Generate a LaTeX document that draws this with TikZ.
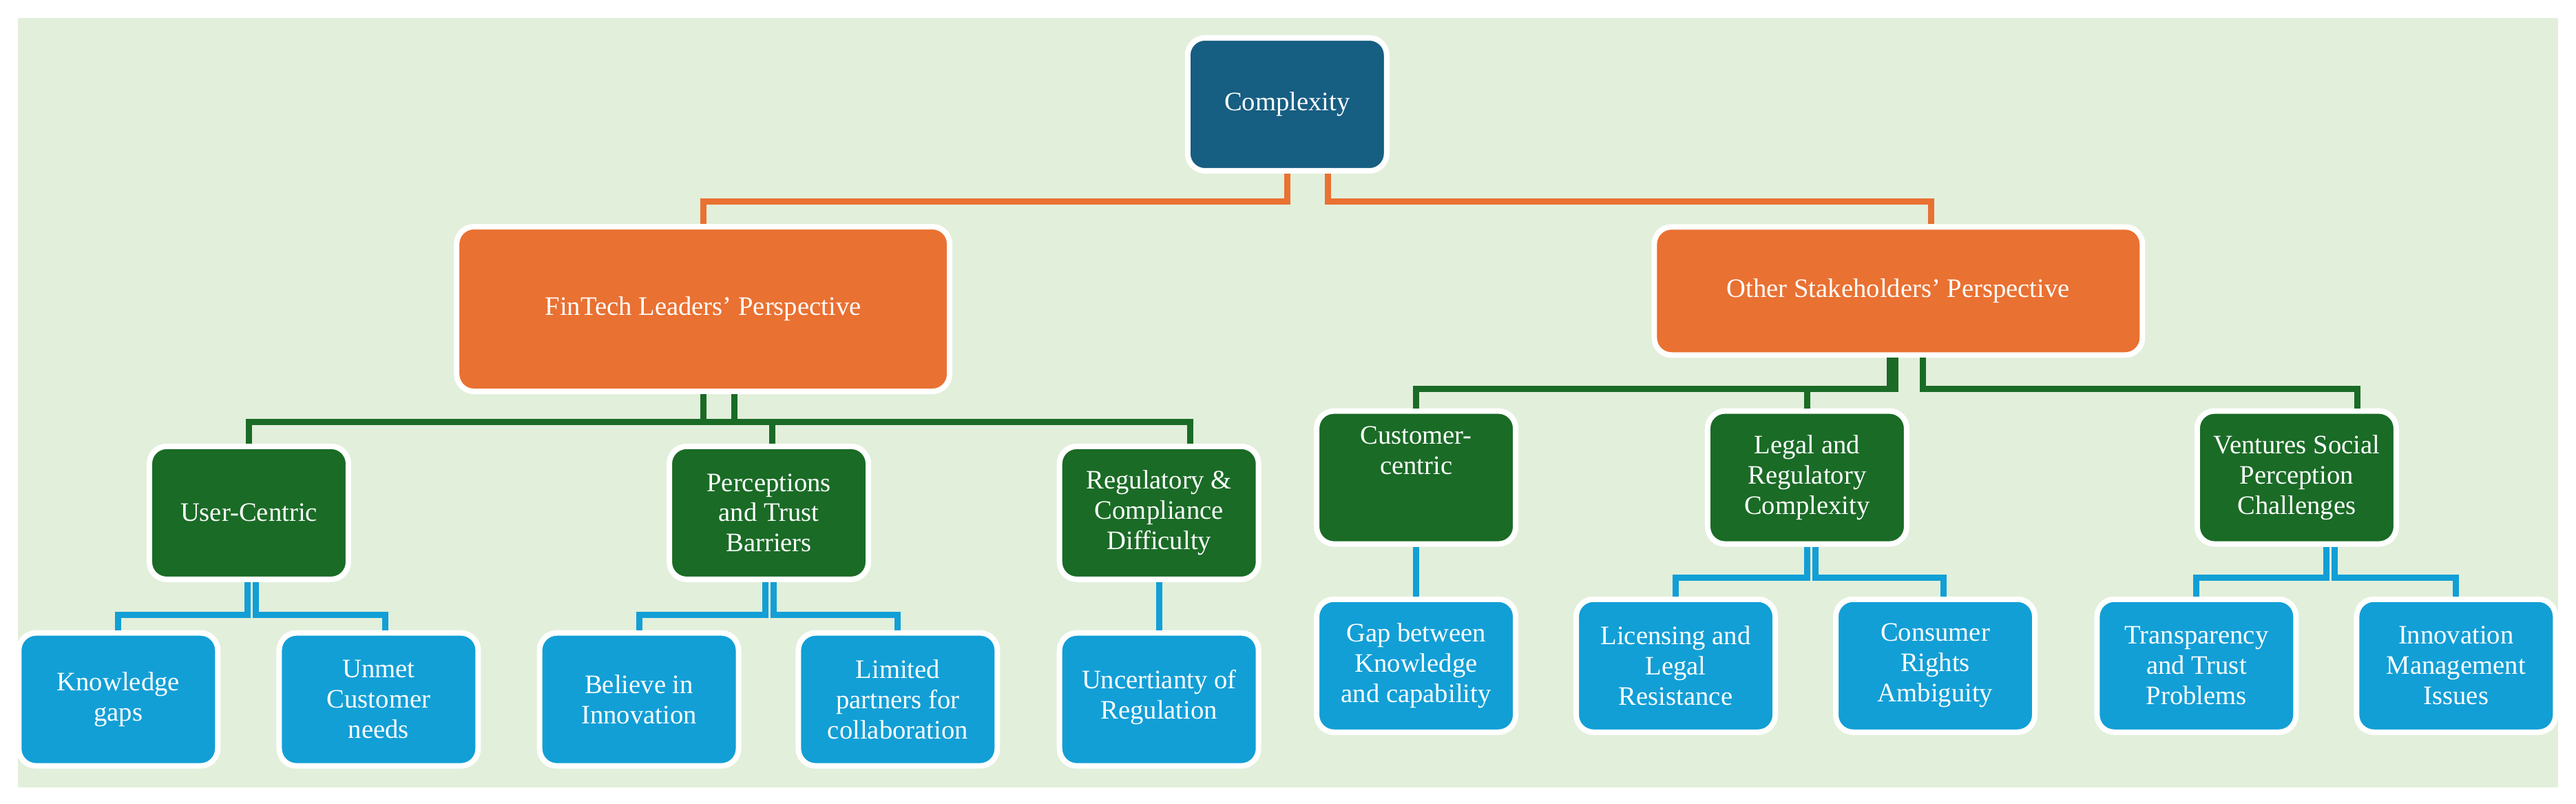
\documentclass[tikz,border=0pt]{standalone}
\usepackage{fontspec}
\setmainfont{Liberation Serif}
\usetikzlibrary{calc}
\definecolor{bg}{HTML}{E2EFDA}
\definecolor{cblue}{HTML}{165E82}
\definecolor{corange}{HTML}{E97132}
\definecolor{cgreen}{HTML}{1A6B26}
\definecolor{clight}{HTML}{129FD6}
\begin{document}
\begin{tikzpicture}[x=0.2386mm,y=-0.2386mm,
 box/.style={draw=white,line width=0.8mm,rounded corners=2.5mm,text=white,align=center,
   font=\fontsize{11}{12.5}\selectfont,minimum width=28.9mm,minimum height=19.3mm,inner sep=1mm},
 bnode/.style={box,fill=cblue},
 onode/.style={box,fill=corange},
 gnode/.style={box,fill=cgreen},
 lnode/.style={box,fill=clight},
 oline/.style={draw=corange,line width=0.9mm},
 gline/.style={draw=cgreen,line width=0.9mm},
 lline/.style={draw=clight,line width=0.9mm}]
\useasboundingbox (0,0) rectangle (1568,489);
\fill[bg] (11,11) rectangle (1557,479);
\node[bnode] (cx) at (783.5,63.5) {Complexity};
\node[onode,minimum width=71.6mm,minimum height=23.9mm] (fin) at (428,188) {FinTech Leaders' Perspective};
\node[onode,minimum width=70.9mm,minimum height=18.6mm] (oth) at (1155.5,177) {Other Stakeholders' Perspective};
\node[gnode] (uc) at (151.5,312) {User-Centric};
\node[gnode] (pe) at (468,312) {Perceptions\\and Trust\\Barriers};
\node[gnode] (re) at (705.5,312) {Regulatory \&\\Compliance\\Difficulty};
\node[gnode] (cc) at (862,290.5) {Customer-\\centric\\[0.9em]};
\node[gnode] (le) at (1100,290.5) {Legal and\\Regulatory\\Complexity};
\node[gnode] (ve) at (1398,290.5) {Ventures Social\\Perception\\Challenges};
\node[lnode] (kg) at (72,425.5) {Knowledge\\gaps};
\node[lnode] (un) at (230.5,425.5) {Unmet\\Customer\\needs};
\node[lnode] (bi) at (389,425.5) {Believe in\\Innovation};
\node[lnode] (li) at (546.5,425.5) {Limited\\partners for\\collaboration};
\node[lnode] (ur) at (705.5,425.5) {\\[-0.6em]Uncertianty of\\Regulation};
\node[lnode] (ga) at (862,405) {Gap between\\Knowledge\\and capability};
\node[lnode] (lc) at (1020,405) {Licensing and\\Legal\\Resistance};
\node[lnode] (co) at (1178,405) {Consumer\\Rights\\Ambiguity};
\node[lnode] (tr) at (1337,405) {Transparency\\and Trust\\Problems};
\node[lnode] (im) at (1495,405) {Innovation\\Management\\Issues};
% level 1
\draw[oline] (cx.south) -- ++(0,17) -| (fin.north);
\draw[oline] ($(cx.south)+(25,0)$) -- ++(0,17) -| ($(oth.north)+(20,0)$);
% fintech
\draw[gline] (fin.south) -- ++(0,17) -| (uc.north);
\draw[gline] (fin.south) -- ++(0,17) -| ($(pe.north)+(2,0)$);
\draw[gline] ($(fin.south)+(19,0)$) -- ++(0,17) -| ($(re.north)+(19,0)$);
% other
\draw[gline] ($(oth.south)+(-5,0)$) -- ++(0,19) -| (cc.north);
\draw[gline] ($(oth.south)+(-2,0)$) -- ++(0,19) -| (le.north);
\draw[gline] ($(oth.south)+(15,0)$) -- ++(0,19) -| ($(ve.north)+(37,0)$);
% third level
\draw[lline] ($(uc.south)+(-1,0)$) -- ++(0,20) -| (kg.north);
\draw[lline] ($(uc.south)+(4,0)$) -- ++(0,20) -| ($(un.north)+(4,0)$);
\draw[lline] ($(pe.south)+(-2,0)$) -- ++(0,20) -| (bi.north);
\draw[lline] ($(pe.south)+(3,0)$) -- ++(0,20) -| (li.north);
\draw[lline] (re.south) -- (ur.north);
\draw[lline] (cc.south) -- (ga.north);
\draw[lline] (le.south) -- ++(0,19) -| (lc.north);
\draw[lline] ($(le.south)+(5,0)$) -- ++(0,19) -| ($(co.north)+(5,0)$);
\draw[lline] ($(ve.south)+(18,0)$) -- ++(0,19) -| (tr.north);
\draw[lline] ($(ve.south)+(23,0)$) -- ++(0,19) -| (im.north);
\end{tikzpicture}
\end{document}
